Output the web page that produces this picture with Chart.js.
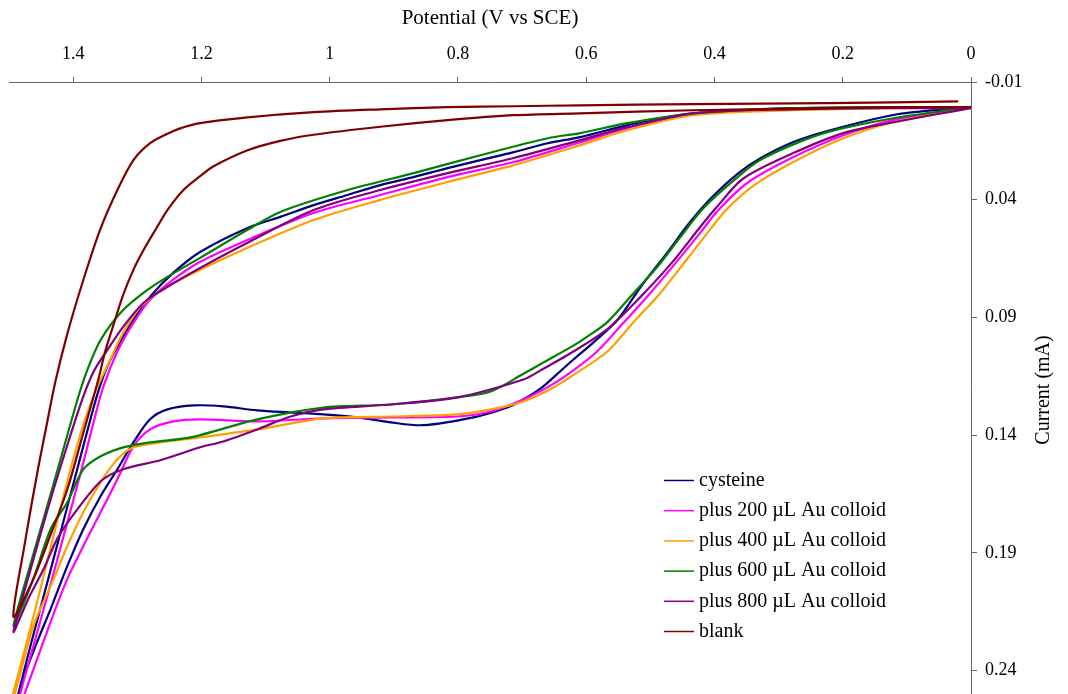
<!DOCTYPE html>
<html>
<head>
<meta charset="utf-8">
<script src="https://cdn.jsdelivr.net/npm/chart.js@4.4.1/dist/chart.umd.min.js"></script>
<style>
  html, body { margin: 0; padding: 0; background: #fff; }
  canvas { display: block; }
</style>
</head>
<body>
<canvas id="chart" width="1068" height="694"></canvas>
<script>
const seriesNames = ["cysteine", "plus 200 µL Au colloid", "plus 400 µL Au colloid",
                     "plus 600 µL Au colloid", "plus 800 µL Au colloid", "blank"];
const seriesColors = ["#000080", "#ff00ff", "#ffa000", "#008000", "#800080", "#800000"];

const xTicks = [1.4, 1.2, 1, 0.8, 0.6, 0.4, 0.2, 0];
const yTicks = [-0.01, 0.04, 0.09, 0.14, 0.19, 0.24];

// each loop: forward scan 0 -> 1.5 V, then the return scan back to 0 V
const cysteineV = [0, 0.115, 0.224, 0.277, 0.329, 0.364, 0.404, 0.438, 0.474, 0.516, 0.551, 0.589, 0.620, 0.645, 0.671, 0.698, 0.723, 0.776, 0.854, 0.905, 0.957, 1.010, 1.061, 1.113, 1.166, 1.212, 1.253, 1.280, 1.306, 1.331, 1.357, 1.384, 1.409, 1.435, 1.456, 1.478, 1.495,
                   1.485, 1.467, 1.443, 1.420, 1.397, 1.378, 1.362, 1.347, 1.326, 1.306, 1.280, 1.244, 1.202, 1.128, 1.077, 1.025, 0.972, 0.921, 0.869, 0.816, 0.765, 0.713, 0.660, 0.609, 0.536, 0.484, 0.433, 0.380, 0.277, 0.121, 0];
const cysteineI = [0.0007, 0.0037, 0.0108, 0.0155, 0.0225, 0.0290, 0.0390, 0.0495, 0.0626, 0.0774, 0.0910, 0.1007, 0.1079, 0.1140, 0.1202, 0.1249, 0.1283, 0.1325, 0.1358, 0.1346, 0.1325, 0.1312, 0.1304, 0.1295, 0.1278, 0.1274, 0.1291, 0.1333, 0.1431, 0.1545, 0.1659, 0.1799, 0.1956, 0.2138, 0.2278, 0.2435, 0.260,
                   0.2494, 0.2300, 0.2054, 0.1817, 0.1580, 0.1384, 0.1225, 0.1110, 0.1000, 0.0910, 0.0812, 0.0711, 0.0622, 0.0520, 0.0473, 0.0423, 0.0380, 0.0338, 0.0304, 0.0266, 0.0232, 0.0198, 0.0160, 0.0134, 0.0083, 0.0054, 0.0033, 0.0024, 0.0011, 0.0007, 0.0007];

const au200V = [0, 0.121, 0.199, 0.277, 0.349, 0.396, 0.422, 0.464, 0.505, 0.542, 0.583, 0.620, 0.656, 0.698, 0.749, 0.801, 0.905, 1.010, 1.113, 1.202, 1.244, 1.280, 1.306, 1.331, 1.357, 1.384, 1.409, 1.435, 1.475, 1.495,
                1.482, 1.459, 1.435, 1.412, 1.388, 1.369, 1.353, 1.331, 1.306, 1.280, 1.244, 1.202, 1.128, 1.025, 0.921, 0.816, 0.713, 0.609, 0.536, 0.433, 0.277, 0.121, 0];
const au200I = [0.0007, 0.0062, 0.0126, 0.0219, 0.0329, 0.0450, 0.0540, 0.0680, 0.0812, 0.0923, 0.1045, 0.1125, 0.1190, 0.1249, 0.1300, 0.1321, 0.1325, 0.1329, 0.1342, 0.1333, 0.1342, 0.1376, 0.1448, 0.1588, 0.1727, 0.1871, 0.2011, 0.2193, 0.2494, 0.264,
                0.2494, 0.2266, 0.2033, 0.1800, 0.1558, 0.1355, 0.1195, 0.1045, 0.0923, 0.0825, 0.0740, 0.0664, 0.0571, 0.0456, 0.0380, 0.0304, 0.0240, 0.0156, 0.0096, 0.0037, 0.0016, 0.0007, 0.0007];

const au400V = [0, 0.121, 0.199, 0.277, 0.339, 0.380, 0.407, 0.442, 0.484, 0.527, 0.567, 0.620, 0.656, 0.698, 0.749, 0.801, 0.905, 1.010, 1.113, 1.202, 1.253, 1.306, 1.331, 1.357, 1.384, 1.409, 1.435, 1.462, 1.490, 1.497,
                1.475, 1.451, 1.428, 1.404, 1.381, 1.362, 1.342, 1.322, 1.295, 1.253, 1.202, 1.128, 1.025, 0.921, 0.816, 0.713, 0.609, 0.536, 0.433, 0.277, 0.121, 0];
const au400I = [0.0011, 0.0071, 0.0139, 0.0240, 0.0340, 0.0438, 0.0527, 0.0650, 0.0795, 0.0923, 0.1045, 0.1145, 0.1205, 0.1257, 0.1291, 0.1312, 0.1321, 0.1329, 0.1376, 0.1410, 0.1427, 0.1452, 0.1503, 0.1600, 0.1727, 0.1871, 0.2041, 0.2211, 0.2490, 0.2535,
                0.2308, 0.2054, 0.1800, 0.1545, 0.1330, 0.1194, 0.1079, 0.0965, 0.0855, 0.0770, 0.0698, 0.0604, 0.0486, 0.0401, 0.0325, 0.0253, 0.0168, 0.0105, 0.0041, 0.0020, 0.0011, 0.0011];

const au600V = [0, 0.121, 0.224, 0.277, 0.329, 0.364, 0.417, 0.453, 0.489, 0.527, 0.567, 0.600, 0.620, 0.671, 0.700, 0.749, 0.801, 0.905, 1.010, 1.113, 1.217, 1.280, 1.322, 1.357, 1.384, 1.409, 1.435, 1.462, 1.493,
                1.467, 1.436, 1.409, 1.390, 1.376, 1.357, 1.326, 1.290, 1.253, 1.202, 1.128, 1.077, 0.972, 0.869, 0.765, 0.660, 0.609, 0.536, 0.433, 0.277, 0.121, 0];
const au600I = [0.0007, 0.0054, 0.0113, 0.0165, 0.0232, 0.0304, 0.0435, 0.0558, 0.0685, 0.0800, 0.0920, 0.0985, 0.1020, 0.1098, 0.1143, 0.1215, 0.1240, 0.1270, 0.1283, 0.1333, 0.1410, 0.1431, 0.1452, 0.1490, 0.1545, 0.1685, 0.1799, 0.2011, 0.2211,
                0.1953, 0.1660, 0.1400, 0.1220, 0.1110, 0.0995, 0.0880, 0.0795, 0.0728, 0.0647, 0.0528, 0.0452, 0.0359, 0.0287, 0.0211, 0.0139, 0.0117, 0.0075, 0.0033, 0.0011, 0.0007, 0.0007];

const au800V = [0, 0.121, 0.199, 0.277, 0.355, 0.396, 0.422, 0.464, 0.516, 0.567, 0.620, 0.671, 0.698, 0.801, 0.905, 1.010, 1.061, 1.113, 1.166, 1.202, 1.264, 1.322, 1.357, 1.399, 1.425, 1.446, 1.470, 1.493,
                1.467, 1.436, 1.407, 1.386, 1.368, 1.347, 1.322, 1.290, 1.253, 1.202, 1.128, 1.025, 0.921, 0.816, 0.713, 0.609, 0.536, 0.433, 0.277, 0.121, 0];
const au800I = [0.0011, 0.0071, 0.0117, 0.0202, 0.0310, 0.0430, 0.0515, 0.0660, 0.0815, 0.0950, 0.1045, 0.1125, 0.1164, 0.1240, 0.1270, 0.1291, 0.1321, 0.1376, 0.1427, 0.1452, 0.1507, 0.1545, 0.1596, 0.1736, 0.1842, 0.1969, 0.2096, 0.2236,
                0.1977, 0.1681, 0.1425, 0.1250, 0.1130, 0.1040, 0.0940, 0.0838, 0.0770, 0.0690, 0.0583, 0.0444, 0.0359, 0.0287, 0.0223, 0.0147, 0.0092, 0.0033, 0.0016, 0.0011, 0.0011];

const blankV = [0, 0.121, 0.224, 0.433, 0.609, 0.713, 0.816, 0.921, 1.025, 1.077, 1.128, 1.181, 1.202, 1.228, 1.253, 1.269, 1.290, 1.306, 1.322, 1.337, 1.350, 1.362, 1.384, 1.409, 1.436, 1.462, 1.493,
                1.475, 1.456, 1.442, 1.428, 1.409, 1.384, 1.358, 1.331, 1.306, 1.280, 1.253, 1.233, 1.202, 1.128, 1.025, 0.921, 0.816, 0.713, 0.609, 0.433, 0.224, 0.020];
const blankI = [0.0007, 0.0007, 0.0011, 0.0020, 0.0033, 0.0041, 0.0062, 0.0090, 0.0124, 0.0150, 0.0190, 0.0258, 0.0300, 0.0359, 0.0444, 0.0516, 0.0613, 0.0698, 0.0804, 0.0931, 0.1045, 0.1177, 0.1389, 0.1630, 0.1829, 0.2011, 0.2172,
                0.1855, 0.1562, 0.1367, 0.1177, 0.0969, 0.0740, 0.0528, 0.0359, 0.0232, 0.0160, 0.0120, 0.0097, 0.0075, 0.0050, 0.0028, 0.0016, 0.0007, 0.0003, -0.0001, -0.0006, -0.0010, -0.0018];

const seriesV = [cysteineV, au200V, au400V, au600V, au800V, blankV];
const seriesI = [cysteineI, au200I, au400I, au600I, au800I, blankI];

const serif = '"Liberation Serif", "Times New Roman", serif';

const datasets = seriesNames.map((name, i) => ({
    label: name,
    data: seriesV[i].map((v, k) => ({ x: v, y: seriesI[i][k] })),
    borderColor: seriesColors[i],
    backgroundColor: seriesColors[i],
    borderWidth: 2.2,
    pointRadius: 0,
    showLine: true,
    tension: 0.3,
    fill: false,
    order: seriesNames.length - i   // later series on top, like the original
}));

// legend and the bottom-to-top y title are drawn by hand
const extras = {
    id: "extras",
    afterDraw(chart) {
        const c = chart.ctx;
        c.save();
        c.font = `20px ${serif}`;
        c.fillStyle = "#000";
        c.textBaseline = "middle";
        c.textAlign = "left";
        seriesNames.forEach((name, i) => {
            const y = 480.5 + i * 30.2;
            c.strokeStyle = seriesColors[i];
            c.lineWidth = 1.5;
            c.beginPath();
            c.moveTo(664, y);
            c.lineTo(694, y);
            c.stroke();
            c.fillText(name, 699, y);
        });

        c.translate(1044, 390);
        c.rotate(-Math.PI / 2);
        c.textAlign = "center";
        c.fillText("Current (mA)", 0, 0);
        c.restore();
    }
};

function noPad(s) {
    s.paddingLeft = 0;
    s.paddingRight = 0;
    s.paddingTop = 0;
    s.paddingBottom = 0;
}

new Chart(document.getElementById("chart"), {
    type: "scatter",
    data: { datasets },
    options: {
        responsive: false,
        animation: false,
        devicePixelRatio: 1,
        layout: { padding: { left: 9, right: 0, top: 0, bottom: 0 } },
        plugins: { legend: { display: false }, tooltip: { enabled: false } },
        scales: {
            x: {
                type: "linear",
                position: "top",
                reverse: true,
                min: 0,
                max: 1.5,
                afterBuildTicks: s => { s.ticks = xTicks.map(v => ({ value: v })); },
                afterFit: s => { s.height = 82; noPad(s); },
                grid: { drawOnChartArea: false, tickLength: 5, color: "#666" },
                border: { color: "#666", width: 1 },
                ticks: {
                    autoSkip: false, maxRotation: 0, padding: 12,
                    color: "#000", font: { family: serif, size: 18 },
                    callback: v => String(v)
                },
                title: {
                    display: true, text: "Potential (V vs SCE)",
                    color: "#000", font: { family: serif, size: 21 },
                    padding: { top: 6, bottom: 0 }
                }
            },
            y: {
                type: "linear",
                position: "right",
                reverse: true,
                min: -0.01,
                max: 0.25,
                afterBuildTicks: s => { s.ticks = yTicks.map(v => ({ value: v })); },
                afterFit: s => { s.width = 97; noPad(s); },
                grid: { drawOnChartArea: false, tickLength: 6, color: "#666" },
                border: { color: "#666", width: 1 },
                ticks: {
                    autoSkip: false, padding: 8,
                    color: "#000", font: { family: serif, size: 18 },
                    callback: v => String(v)
                }
            }
        }
    },
    plugins: [extras]
});
</script>
</body>
</html>
